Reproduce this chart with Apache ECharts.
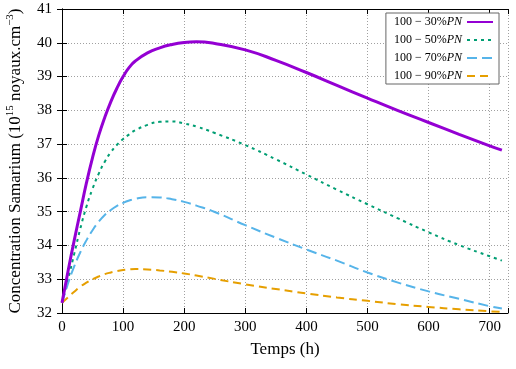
<!DOCTYPE html>
<html>
<head>
<meta charset="utf-8">
<script src="https://cdn.jsdelivr.net/npm/echarts@6/dist/echarts.min.js"></script>
<style>
  html, body { margin: 0; padding: 0; background: #fff; }
  #chart { width: 516px; height: 369px; }
</style>
</head>
<body>
<div id="chart"></div>
<script>
// temps (h)
let hours = [0, 10, 20, 30, 40, 50, 60, 70, 80, 90, 100, 110, 120, 140, 160, 180, 200, 220, 250, 300, 350, 400, 450, 500, 550, 600, 650, 700, 720];

// concentration samarium (10^15 noyaux.cm^-3)
let pn30 = [32.3, 33.25, 34.15, 35.0, 35.85, 36.6, 37.25, 37.79, 38.26, 38.66, 39.0, 39.27, 39.46, 39.7, 39.85, 39.95, 40.01, 40.03, 39.98, 39.79, 39.48, 39.12, 38.74, 38.36, 37.99, 37.64, 37.29, 36.95, 36.82];
let pn50 = [32.3, 33.0, 33.75, 34.5, 35.15, 35.68, 36.12, 36.48, 36.76, 36.98, 37.15, 37.29, 37.41, 37.57, 37.66, 37.67, 37.61, 37.52, 37.33, 36.97, 36.55, 36.1, 35.65, 35.22, 34.8, 34.39, 34.01, 33.68, 33.55];
let pn70 = [32.3, 32.88, 33.38, 33.8, 34.15, 34.45, 34.7, 34.9, 35.05, 35.17, 35.26, 35.33, 35.38, 35.43, 35.42, 35.37, 35.29, 35.18, 34.99, 34.6, 34.23, 33.88, 33.55, 33.2, 32.9, 32.64, 32.42, 32.2, 32.13];
let pn90 = [32.3, 32.47, 32.63, 32.78, 32.9, 33.0, 33.08, 33.15, 33.2, 33.24, 33.27, 33.29, 33.3, 33.29, 33.26, 33.22, 33.17, 33.11, 33.01, 32.85, 32.71, 32.58, 32.46, 32.36, 32.26, 32.18, 32.11, 32.05, 32.03];

let names = ["100 − 30%PN", "100 − 50%PN", "100 − 70%PN", "100 − 90%PN"];

let font = "'Liberation Serif', serif";

function pairs(values) {
  return hours.map((h, i) => [h, values[i]]);
}

let chart = echarts.init(document.getElementById("chart"));

let gridLine = { show: true, lineStyle: { color: "#a0a0a0", type: [1, 2], width: 1 } };
let frame = { show: true, lineStyle: { color: "#000", width: 1 } };
let innerTick = { show: true, inside: true, length: 5, lineStyle: { color: "#000" } };

let option = {
  animation: false,
  grid: { left: 62, right: 8, top: 9, bottom: 56, outerBoundsMode: "none" },
  legend: {
    orient: "vertical",
    right: 17,
    top: 13,
    align: "right",
    itemWidth: 26,
    itemHeight: 12,
    itemGap: 6,
    padding: [3, 5, 2, 8],
    borderColor: "#666",
    borderWidth: 1,
    backgroundColor: "#fff",
    itemStyle: { opacity: 0 },
    formatter: name => name.replace("PN", "") + "{i|PN}",
    textStyle: {
      fontFamily: font,
      fontSize: 12,
      color: "#000",
      rich: { i: { fontFamily: font, fontStyle: "italic", fontSize: 12, color: "#000" } }
    }
  },
  xAxis: [
    {
      type: "value",
      min: 0,
      max: 730,
      interval: 100,
      name: "Temps (h)",
      nameLocation: "middle",
      nameGap: 28,
      nameTextStyle: { fontFamily: font, fontSize: 17, color: "#000" },
      axisLine: frame,
      axisTick: innerTick,
      splitLine: gridLine,
      axisLabel: {
        margin: 7,
        fontFamily: font,
        fontSize: 15,
        color: "#000",
        formatter: v => (v % 100 === 0 ? v : "")
      }
    },
    {
      type: "value",
      position: "top",
      min: 0,
      max: 730,
      interval: 100,
      axisLine: frame,
      axisTick: innerTick,
      splitLine: { show: false },
      axisLabel: { show: false }
    }
  ],
  yAxis: [
    {
      type: "value",
      min: 32,
      max: 41,
      interval: 1,
      name: "Concentration Samarium (10{sup|15} noyaux.cm{sup|−3})",
      nameLocation: "middle",
      nameRotate: 90,
      nameGap: 36,
      nameTextStyle: {
        fontFamily: font,
        fontSize: 17,
        color: "#000",
        rich: { sup: { fontFamily: font, fontSize: 11, color: "#000", padding: [0, 0, 10, 0] } }
      },
      axisLine: frame,
      axisTick: innerTick,
      splitLine: gridLine,
      axisLabel: { margin: 10, fontFamily: font, fontSize: 15, color: "#000" }
    },
    {
      type: "value",
      position: "right",
      min: 32,
      max: 41,
      interval: 1,
      axisLine: frame,
      axisTick: innerTick,
      splitLine: { show: false },
      axisLabel: { show: false }
    }
  ],
  series: [
    {
      name: names[0],
      type: "line",
      data: pairs(pn30),
      smooth: 0.5,
      symbol: "none",
      z: 5,
      lineStyle: { color: "#9400d3", width: 3 },
      itemStyle: { color: "#9400d3" }
    },
    {
      name: names[1],
      type: "line",
      data: pairs(pn50),
      smooth: 0.5,
      symbol: "none",
      lineStyle: { color: "#009e73", width: 2, type: [3, 4] },
      itemStyle: { color: "#009e73" }
    },
    {
      name: names[2],
      type: "line",
      data: pairs(pn70),
      smooth: 0.5,
      symbol: "none",
      lineStyle: { color: "#56b4e9", width: 2, type: [10, 5] },
      itemStyle: { color: "#56b4e9" }
    },
    {
      name: names[3],
      type: "line",
      data: pairs(pn90),
      smooth: 0.5,
      symbol: "none",
      lineStyle: { color: "#e69f00", width: 2, type: [8, 5] },
      itemStyle: { color: "#e69f00" }
    }
  ]
};

chart.setOption(option);
</script>
</body>
</html>
